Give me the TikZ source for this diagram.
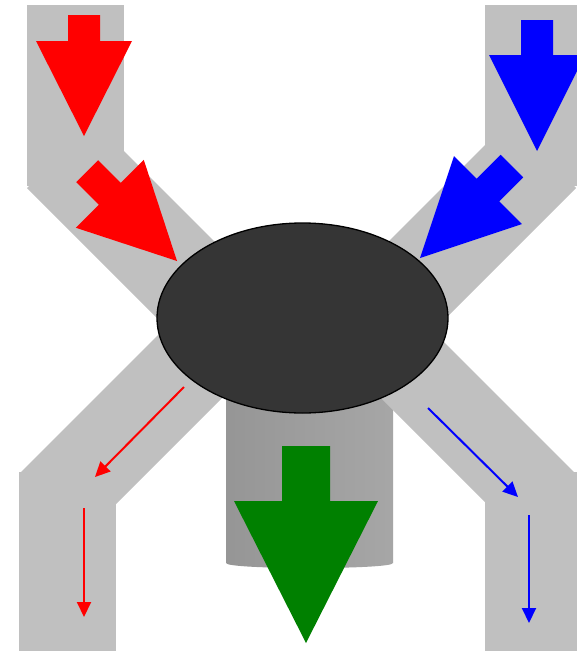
\documentclass[tikz,border=0pt]{standalone}
\usetikzlibrary{arrows.meta}
\definecolor{pipegray}{RGB}{192,192,192}
\definecolor{hubgray}{RGB}{53,53,53}
\definecolor{outgreen}{RGB}{0,128,0}
\definecolor{cylA}{RGB}{170,170,170}
\definecolor{cylB}{RGB}{148,148,148}
\definecolor{cylC}{RGB}{172,172,172}
\definecolor{cylD}{RGB}{200,200,200}
\pgfdeclarehorizontalshading{cylshade}{100bp}{color(0bp)=(cylA); color(4bp)=(cylB); color(20bp)=(cylB); color(92bp)=(cylC); color(100bp)=(cylD)}
\newcommand{\blkarrow}[4]{\fill (0,0) -- (-#2,-#1) -- (-#3,-#1) -- (-#3,{-#1-#4}) -- (#3,{-#1-#4}) -- (#3,-#1) -- (#2,-#1) -- cycle;}
\begin{document}
\begin{tikzpicture}[x=1pt,y=-1pt,
  pipe/.style={fill=pipegray,draw=none},
  flowline/.style={line width=2pt,-{Triangle[length=15pt,width=14pt]}}]
\useasboundingbox (0,0) rectangle (576,651);
\fill[white] (0,0) rectangle (576,651);
% outlet cylinder
\shade[shading=cylshade] (226,380) -- (226,563) .. controls (226,569.7) and (393,569.7) .. (393,563) -- (393,380) -- cycle;
% pipes
\fill[pipe] (27,5) rectangle (124,186);
\fill[pipe] (27,188) -- (94,121) -- (286.5,313.5) -- (219.5,380.5) -- cycle;
\fill[pipe] (485,5) rectangle (582,186);
\fill[pipe] (576,188) -- (509,121) -- (315,315) -- (382,382) -- cycle;
\fill[pipe] (19,472) rectangle (116,656);
\fill[pipe] (19,474) -- (246.5,246.5) -- (310,310) -- (82.5,537.5) -- cycle;
\fill[pipe] (485,472) rectangle (582,656);
\fill[pipe] (401,299) -- (575,473) -- (515.5,532.5) -- (341.5,358.5) -- cycle;
% hub
\draw[fill=hubgray,line width=1.3pt] (302.5,318) ellipse [x radius=145.5, y radius=95];
% block arrows
\begin{scope}[shift={(84,136)},fill=red] \blkarrow{95}{48}{16}{26} \end{scope}
\begin{scope}[shift={(537,151)},fill=blue] \blkarrow{96}{48}{16}{35} \end{scope}
\begin{scope}[shift={(177,261)},rotate=45,fill=red] \blkarrow{95}{48}{15.5}{32} \end{scope}
\begin{scope}[shift={(420,258)},rotate=-45,fill=blue] \blkarrow{96}{48}{16}{34} \end{scope}
\begin{scope}[shift={(306,643)},fill=outgreen] \blkarrow{142}{72}{24}{55} \end{scope}
% thin flow arrows
\coordinate (r1s) at (184,387);
\coordinate (r1e) at (95,477);
\coordinate (r2s) at (84,508);
\coordinate (r2e) at (84,617);
\coordinate (b1s) at (428,408);
\coordinate (b1e) at (518,497);
\coordinate (b2s) at (529,515);
\coordinate (b2e) at (529,623);
\draw[flowline,red] (r1s) -- (r1e);
\draw[flowline,red] (r2s) -- (r2e);
\draw[flowline,blue] (b1s) -- (b1e);
\draw[flowline,blue] (b2s) -- (b2e);
\end{tikzpicture}
\end{document}
